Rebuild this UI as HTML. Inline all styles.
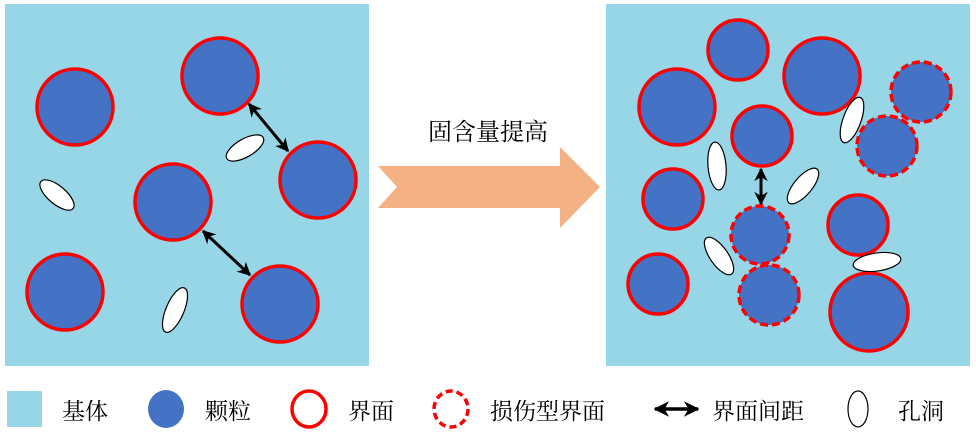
<!DOCTYPE html>
<html><head><meta charset="utf-8"><style>
body{margin:0;background:#fff;width:976px;height:433px;overflow:hidden}
svg{display:block}
text{font-family:"Liberation Serif","Noto Serif CJK SC",serif}
</style></head><body>
<svg width="976" height="433" viewBox="0 0 976 433" xmlns="http://www.w3.org/2000/svg">
<defs>
<marker id="ah" viewBox="0 0 10 10" refX="9" refY="5" markerWidth="4.5" markerHeight="4.5" orient="auto-start-reverse"><path d="M0,0 L10,5 L0,10 L3,5 z" fill="#000"/></marker>
</defs>
<rect x="5" y="4" width="364" height="362" fill="#97d6e7"/>
<rect x="606" y="4" width="364" height="362" fill="#97d6e7"/>
<g fill="#4472c4" stroke="#ff0000" stroke-width="3.5">
<circle cx="75" cy="107" r="38"/>
<circle cx="220" cy="76" r="38"/>
<circle cx="318" cy="180" r="38"/>
<circle cx="173" cy="202" r="38"/>
<circle cx="65" cy="292" r="38"/>
<circle cx="280" cy="304" r="38"/>
<circle cx="738" cy="50" r="30"/>
<circle cx="677" cy="107" r="38"/>
<circle cx="822" cy="76" r="38"/>
<circle cx="762" cy="136" r="30"/>
<circle cx="673" cy="199" r="30"/>
<circle cx="858" cy="225" r="30"/>
<circle cx="658" cy="284" r="30"/>
<circle cx="869" cy="312" r="39"/>
</g>
<g fill="#4472c4" stroke="#ff0000" stroke-width="3.5" stroke-dasharray="8,4">
<circle cx="921" cy="92" r="30"/>
<circle cx="887" cy="146" r="30"/>
<circle cx="760" cy="235" r="29"/>
<circle cx="769" cy="295" r="30"/>
</g>
<g fill="#fff" stroke="#000" stroke-width="1.2">
<ellipse cx="245" cy="148" rx="21" ry="9" transform="rotate(-30 245 148)"/>
<ellipse cx="57" cy="195" rx="21" ry="9" transform="rotate(40 57 195)"/>
<ellipse cx="175" cy="310" rx="24" ry="9" transform="rotate(-67 175 310)"/>
<ellipse cx="852" cy="120" rx="24" ry="9" transform="rotate(-70 852 120)"/>
<ellipse cx="717" cy="166" rx="24" ry="9" transform="rotate(85 717 166)"/>
<ellipse cx="803" cy="186" rx="22" ry="9" transform="rotate(-50 803 186)"/>
<ellipse cx="719" cy="256" rx="22" ry="9" transform="rotate(55 719 256)"/>
<ellipse cx="877" cy="262" rx="24" ry="9" transform="rotate(-8 877 262)"/>
</g>
<g stroke="#000" stroke-width="3" marker-start="url(#ah)" marker-end="url(#ah)">
<line x1="249" y1="104" x2="288" y2="151"/>
<line x1="203" y1="231" x2="250" y2="275"/>
<line x1="761" y1="169" x2="761" y2="204"/>
</g>
<polygon points="378,166 560,166 560,147 600,187 560,228 560,208 378,208 397,187" fill="#f4b183"/>
<text x="488" y="140" font-size="24" text-anchor="middle">固含量提高</text>
<rect x="7" y="391" width="35" height="36" fill="#97d6e7"/>
<text x="62" y="419" font-size="23">基体</text>
<ellipse cx="166" cy="409" rx="18" ry="19" fill="#4472c4"/>
<text x="205" y="419" font-size="23">颗粒</text>
<ellipse cx="309" cy="409" rx="17" ry="18" fill="none" stroke="#ff0000" stroke-width="3.5"/>
<text x="348" y="419" font-size="23">界面</text>
<ellipse cx="451" cy="409" rx="17" ry="18" fill="none" stroke="#ff0000" stroke-width="3.5" stroke-dasharray="7,4"/>
<text x="490" y="419" font-size="23">损伤型界面</text>
<line x1="655" y1="409" x2="698" y2="409" stroke="#000" stroke-width="3.5" marker-start="url(#ah)" marker-end="url(#ah)"/>
<text x="712" y="419" font-size="23">界面间距</text>
<ellipse cx="858" cy="409" rx="10" ry="18" fill="#fff" stroke="#000" stroke-width="1.2"/>
<text x="898" y="419" font-size="23">孔洞</text>
</svg>
</body></html>
